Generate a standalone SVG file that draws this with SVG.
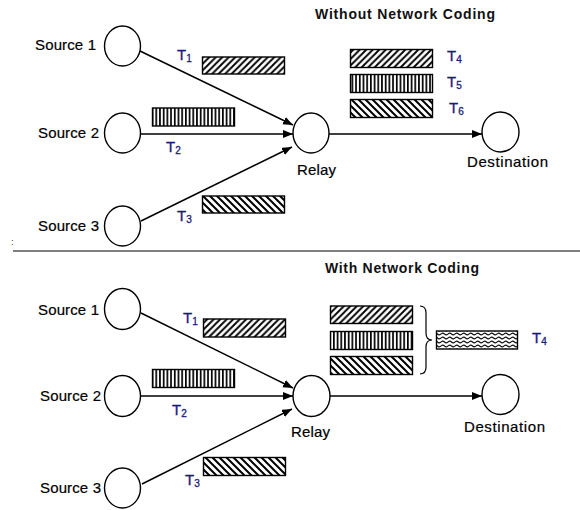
<svg xmlns="http://www.w3.org/2000/svg" width="580" height="510" viewBox="0 0 580 510">
<style>
.node{fill:#fff;stroke:#000;stroke-width:1.4}
.lbl{font-family:"Liberation Sans",Arial,sans-serif;font-size:15px;fill:#000;stroke:#000;stroke-width:0.2}
.title{font-family:"Liberation Sans",Arial,sans-serif;font-size:14px;font-weight:bold;fill:#111}
.t{font-family:"Liberation Sans",Arial,sans-serif;font-size:15px;fill:#1a1a7a;stroke:#1a1a7a;stroke-width:0.3}
.t tspan{font-size:10px}
.edge{stroke:#000;stroke-width:1.5;fill:none;marker-end:url(#arr)}
.pkt{stroke:#000;stroke-width:1.4}
</style>
<defs>
<marker id="arr" markerUnits="userSpaceOnUse" markerWidth="11" markerHeight="9" refX="10" refY="4" orient="auto">
<path d="M0,0 L10,4 L0,8 z" fill="#000"/>
</marker>
<pattern id="fwd" patternUnits="userSpaceOnUse" width="6.5" height="6.5">
<rect width="6.5" height="6.5" fill="#fff"/>
<path d="M-1.625,1.625 L1.625,-1.625 M0,6.5 L6.5,0 M4.875,8.125 L8.125,4.875" stroke="#000" stroke-width="1.9"/>
</pattern>
<pattern id="bwd" patternUnits="userSpaceOnUse" width="7" height="7">
<rect width="7" height="7" fill="#fff"/>
<path d="M-1.75,5.25 L1.75,8.75 M0,0 L7,7 M5.25,-1.75 L8.75,1.75" stroke="#000" stroke-width="2"/>
</pattern>
<pattern id="vert" patternUnits="userSpaceOnUse" width="3.7" height="10">
<rect width="3.7" height="10" fill="#fff"/>
<rect x="0" y="0" width="1.7" height="10" fill="#000"/>
</pattern>
<pattern id="wave" patternUnits="userSpaceOnUse" width="7" height="4">
<rect width="7" height="4" fill="#fff"/>
<path d="M0,2 Q1.75,0.2 3.5,2 T7,2" stroke="#111" stroke-width="1.1" fill="none"/>
</pattern>
</defs>

<!-- ===== Top: Without Network Coding ===== -->
<text class="title" x="315" y="19" textLength="180">Without Network Coding</text>

<g id="connectors-top">
<line class="edge" x1="140" y1="51" x2="293" y2="125"/>
<line class="edge" x1="141" y1="134" x2="293" y2="134"/>
<line class="edge" x1="141" y1="221" x2="292" y2="147"/>
<line class="edge" x1="329" y1="134" x2="482" y2="134"/>
</g>

<g id="src1-top"><ellipse class="node" cx="122.5" cy="46" rx="18" ry="20"/><text class="lbl" x="35" y="50" textLength="61">Source 1</text></g>
<g id="src2-top"><ellipse class="node" cx="122.5" cy="133" rx="18" ry="20"/><text class="lbl" x="38" y="138" textLength="61">Source 2</text></g>
<g id="src3-top"><ellipse class="node" cx="122.5" cy="226" rx="18" ry="20"/><text class="lbl" x="38" y="231" textLength="61">Source 3</text></g>
<g id="relay-top"><ellipse class="node" cx="311" cy="133" rx="18" ry="20"/><text class="lbl" x="297" y="175" textLength="39">Relay</text></g>
<g id="dest-top"><ellipse class="node" cx="500.5" cy="132" rx="18.5" ry="20"/><text class="lbl" x="467" y="167" textLength="81">Destination</text></g>

<g id="packets-top">
<rect class="pkt" x="202.5" y="57" width="82" height="17" fill="url(#fwd)"/>
<rect class="pkt" x="152.5" y="108" width="82" height="18" fill="url(#vert)"/>
<rect class="pkt" x="202.5" y="196" width="82" height="17" fill="url(#bwd)"/>
<rect class="pkt" x="350.5" y="49.5" width="82" height="18" fill="url(#fwd)"/>
<rect class="pkt" x="350.5" y="74.5" width="82" height="18" fill="url(#vert)"/>
<rect class="pkt" x="350.5" y="99.5" width="82" height="18" fill="url(#bwd)"/>
</g>
<g id="tlabels-top">
<text class="t" x="177" y="60">T<tspan dy="2">1</tspan></text>
<text class="t" x="166" y="152">T<tspan dy="2">2</tspan></text>
<text class="t" x="177" y="221">T<tspan dy="2">3</tspan></text>
<text class="t" x="447" y="61">T<tspan dy="2">4</tspan></text>
<text class="t" x="447" y="87">T<tspan dy="2">5</tspan></text>
<text class="t" x="449" y="113">T<tspan dy="2">6</tspan></text>
</g>

<text x="11" y="245" font-family="Liberation Sans,Arial,sans-serif" font-size="9" fill="#333">:</text>
<line x1="13" y1="251" x2="580" y2="251" stroke="#555" stroke-width="1.5"/>

<!-- ===== Bottom: With Network Coding ===== -->
<text class="title" x="325" y="273" textLength="154">With Network Coding</text>

<g id="connectors-bottom">
<line class="edge" x1="141" y1="313" x2="293" y2="388"/>
<line class="edge" x1="141" y1="396" x2="293" y2="396"/>
<line class="edge" x1="142" y1="484" x2="292" y2="409"/>
<line class="edge" x1="330" y1="396" x2="482" y2="396"/>
</g>

<g id="src1-bot"><ellipse class="node" cx="122.5" cy="309" rx="18" ry="20.5"/><text class="lbl" x="38" y="315" textLength="61">Source 1</text></g>
<g id="src2-bot"><ellipse class="node" cx="122.5" cy="396" rx="18" ry="20.5"/><text class="lbl" x="40" y="401" textLength="61">Source 2</text></g>
<g id="src3-bot"><ellipse class="node" cx="122.5" cy="488" rx="18" ry="20"/><text class="lbl" x="40" y="493" textLength="61">Source 3</text></g>
<g id="relay-bot"><ellipse class="node" cx="311.5" cy="396" rx="18.5" ry="20.5"/><text class="lbl" x="291" y="437" textLength="39">Relay</text></g>
<g id="dest-bot"><ellipse class="node" cx="500.5" cy="394.5" rx="18.5" ry="20"/><text class="lbl" x="464" y="432" textLength="81">Destination</text></g>

<g id="packets-bottom">
<rect class="pkt" x="203.5" y="319" width="82" height="18" fill="url(#fwd)"/>
<rect class="pkt" x="152.5" y="369.5" width="82" height="18" fill="url(#vert)"/>
<rect class="pkt" x="203.5" y="457.5" width="82" height="18" fill="url(#bwd)"/>
<rect class="pkt" x="330.5" y="306" width="82" height="17.5" fill="url(#fwd)"/>
<rect class="pkt" x="330.5" y="331.5" width="82" height="18" fill="url(#vert)"/>
<rect class="pkt" x="330.5" y="356.5" width="82" height="18" fill="url(#bwd)"/>
<rect class="pkt" x="436.5" y="331" width="81" height="18" fill="url(#wave)" stroke-width="1.2"/>
<path d="M420,306 Q426,306 426,313 L426,333 Q426,340 432,340 Q426,340 426,347 L426,367 Q426,374 420,374" fill="none" stroke="#000" stroke-width="1.2"/>
</g>
<g id="tlabels-bottom">
<text class="t" x="183" y="323">T<tspan dy="2">1</tspan></text>
<text class="t" x="172" y="415">T<tspan dy="2">2</tspan></text>
<text class="t" x="185" y="485">T<tspan dy="2">3</tspan></text>
<text class="t" x="532" y="343">T<tspan dy="2">4</tspan></text>
</g>
</svg>
